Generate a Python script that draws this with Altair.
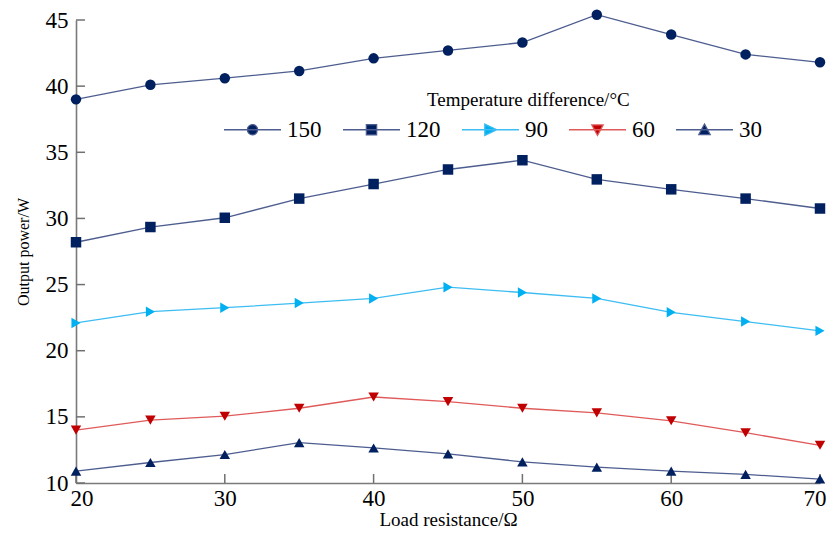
import altair as alt
import pandas as pd

# ---- data ----
resistance = [20, 25, 30, 35, 40, 45, 50, 55, 60, 65, 70]
p150 = [39.0, 40.1, 40.6, 41.15, 42.1, 42.7, 43.3, 45.4, 43.9, 42.4, 41.8]
p120 = [28.2, 29.35, 30.05, 31.5, 32.6, 33.7, 34.4, 32.95, 32.2, 31.5, 30.75]
p90 = [22.1, 22.95, 23.25, 23.6, 23.95, 24.8, 24.4, 23.95, 22.9, 22.2, 21.5]
p60 = [14.0, 14.75, 15.05, 15.65, 16.5, 16.15, 15.65, 15.3, 14.7, 13.8, 12.85]
p30 = [10.9, 11.55, 12.15, 13.05, 12.65, 12.2, 11.6, 11.2, 10.9, 10.65, 10.3]
series_names = ["150", "120", "90", "60", "30"]
x_ticks = [20, 30, 40, 50, 60, 70]
y_ticks = [10, 15, 20, 25, 30, 35, 40, 45]

# ---- styles ----
marker_colors = ["#002060", "#002060", "#00b0f0", "#c00000", "#002060"]
line_colors = ["#4d5d8f", "#4d5d8f", "#3dbdf2", "#e05a5a", "#4d5d8f"]
marker_shapes = ["circle", "square", "triangle-right", "triangle-down", "triangle-up"]
marker_sizes = [110, 110, 170, 150, 150]
legend_paths = [
    "M-1,0H1M-0.18,0A0.18,0.18,0,1,1,0.18,0A0.18,0.18,0,1,1,-0.18,0Z",
    "M-1,0H1M-0.18,-0.18H0.18V0.18H-0.18Z",
    "M-1,0H1M-0.2,-0.2L0.22,0L-0.2,0.2Z",
    "M-1,0H1M-0.2,-0.17L0.2,-0.17L0,0.2Z",
    "M-1,0H1M-0.2,0.17L0.2,0.17L0,-0.2Z",
]
FONT = "Liberation Serif"
W, H = 744, 463

values = [p150, p120, p90, p60, p30]
rows = []
for name, vals in zip(series_names, values):
    for r, v in zip(resistance, vals):
        rows.append({"series": name, "R": r, "P": v})
df = pd.DataFrame(rows)

xscale = alt.Scale(domain=[20, 70], nice=False, zero=False)
yscale = alt.Scale(domain=[10, 45], nice=False, zero=False)

x_enc = alt.X(
    "R:Q", scale=xscale,
    axis=alt.Axis(values=x_ticks, title="Load resistance/Ω", ticks=False,
                  labelPadding=4, titlePadding=0, labelFontSize=23,
                  titleFontSize=19, labelFlush=True, labelFlushOffset=6),
)
y_enc = alt.Y(
    "P:Q", scale=yscale,
    axis=alt.Axis(values=y_ticks, title="Output power/W", ticks=False,
                  labelPadding=8, titlePadding=14, labelFontSize=23,
                  titleFontSize=16),
)

lines = alt.Chart(df).mark_line(strokeWidth=1.3).encode(
    x=x_enc, y=y_enc,
    stroke=alt.Stroke("series:N", scale=alt.Scale(domain=series_names, range=line_colors), legend=None),
)

points = alt.Chart(df).mark_point(filled=True, opacity=1).encode(
    x="R:Q", y="P:Q",
    fill=alt.Fill("series:N", scale=alt.Scale(domain=series_names, range=marker_colors), legend=None),
    shape=alt.Shape("series:N", scale=alt.Scale(domain=series_names, range=marker_shapes), legend=None),
    size=alt.Size("series:N", scale=alt.Scale(domain=series_names, range=marker_sizes), legend=None),
)

leg = alt.Legend(
    title=None, orient="none", legendX=147, legendY=80, direction="horizontal",
    columns=5, columnPadding=18, symbolSize=3249, symbolStrokeWidth=1.3,
    symbolOpacity=1, labelFont=FONT, labelFontSize=23, labelOffset=5,
    labelColor="black", padding=0,
)
legend_layer = alt.Chart(df).mark_point(filled=True, opacity=0).encode(
    x="R:Q", y="P:Q",
    fill=alt.Fill("series:N", scale=alt.Scale(domain=series_names, range=marker_colors), legend=leg),
    stroke=alt.Stroke("series:N", scale=alt.Scale(domain=series_names, range=line_colors), legend=leg),
    shape=alt.Shape("series:N", scale=alt.Scale(domain=series_names, range=legend_paths), legend=leg),
)

xt = alt.Chart(pd.DataFrame({"t": x_ticks})).mark_rule(color="#707070", strokeWidth=1.5).encode(
    x=alt.X("t:Q", scale=xscale), y=alt.value(H), y2=alt.value(H - 9)
)
yt = alt.Chart(pd.DataFrame({"t": y_ticks})).mark_rule(color="#707070", strokeWidth=1.5).encode(
    y=alt.Y("t:Q", scale=yscale), x=alt.value(0), x2=alt.value(9)
)

chart = alt.layer(xt, yt, lines, points, legend_layer).resolve_scale(
    shape="independent", fill="independent", stroke="independent", size="independent"
).properties(
    width=W, height=H,
    padding={"left": 68, "top": 12, "right": 7, "bottom": 45},
    autosize=alt.AutoSizeParams(type="none"),
    title=alt.TitleParams(
        "Temperature difference/°C", anchor="start", dx=412, dy=101,
        font=FONT, fontSize=19, fontWeight="normal", color="black", offset=0,
    ),
    background="white",
).configure_view(stroke=None).configure_axis(
    domainColor="#7a7a7a", domainWidth=1.6, grid=False, labelFont=FONT,
    titleFont=FONT, labelColor="black", titleColor="black", titleFontWeight="normal",
)

chart.save("out.html", embed_options={"renderer": "svg", "actions": False})
